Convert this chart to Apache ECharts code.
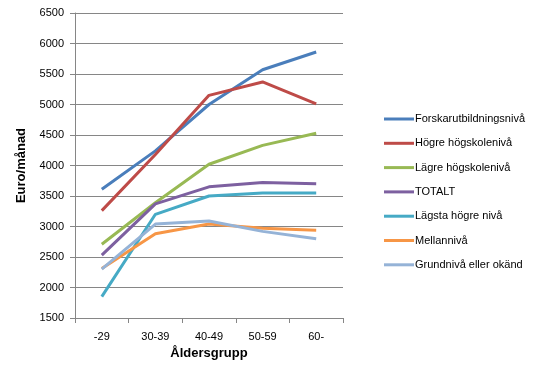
<!DOCTYPE html>
<html><head><meta charset="utf-8">
<script src="https://cdn.jsdelivr.net/npm/echarts@6/dist/echarts.min.js"></script>
<style>html,body{margin:0;padding:0;background:#fff}#c{width:545px;height:382px}</style>
</head><body><div id="c"></div>
<script>
const categories = ['-29', '30-39', '40-49', '50-59', '60-'];
const yTicks = [1500, 6500, 500];
const seriesNames = ['Forskarutbildningsnivå', 'Högre högskolenivå', 'Lägre högskolenivå', 'TOTALT', 'Lägsta högre nivå', 'Mellannivå', 'Grundnivå eller okänd'];
const forskar = [3610, 4240, 5000, 5570, 5860];
const hogre = [3260, 4180, 5150, 5370, 5010];
const lagre = [2710, 3390, 4020, 4330, 4530];
const totalt = [2530, 3370, 3650, 3720, 3700];
const lagsta = [1850, 3200, 3500, 3550, 3550];
const mellan = [2310, 2880, 3040, 2970, 2940];
const grund = [2300, 3040, 3090, 2920, 2800];
const colors = ['#4A7EBB', '#BE4B48', '#98B954', '#7D60A0', '#46AAC5', '#F79646', '#95B3D7'];
const data = [forskar, hogre, lagre, totalt, lagsta, mellan, grund];

const chart = echarts.init(document.getElementById('c'));
const font = 'Liberation Sans, Arial, sans-serif';
chart.setOption({
  animation: false,
  color: colors,
  grid: { left: 75, right: 202, top: 13, bottom: 64 },
  legend: {
    orient: 'vertical', left: 379, top: 108.5,
    icon: 'rect',
    itemWidth: 30, itemHeight: 3, itemGap: 13.3,
    textStyle: { fontFamily: font, fontSize: 11, color: '#000', padding: [0, 0, 0, -4] },
    data: seriesNames
  },
  xAxis: {
    type: 'category', data: categories, boundaryGap: true,
    name: 'Åldersgrupp', nameLocation: 'middle', nameGap: 28,
    nameTextStyle: { fontFamily: font, fontSize: 13, fontWeight: 'bold', color: '#000' },
    axisLine: { lineStyle: { color: '#868686', width: 1 } },
    axisTick: { show: true, length: 5, lineStyle: { color: '#868686' } },
    axisLabel: { fontFamily: font, fontSize: 11, color: '#000', margin: 13 }
  },
  yAxis: {
    type: 'value', min: yTicks[0], max: yTicks[1], interval: yTicks[2],
    name: 'Euro/månad', nameLocation: 'middle', nameGap: 47, nameRotate: 90,
    nameTextStyle: { fontFamily: font, fontSize: 13, fontWeight: 'bold', color: '#000' },
    axisLine: { show: true, lineStyle: { color: '#868686', width: 1 } },
    axisTick: { show: true, length: 5, lineStyle: { color: '#868686' } },
    axisLabel: { fontFamily: font, fontSize: 11, color: '#000', margin: 11, formatter: v => String(v) },
    splitLine: { lineStyle: { color: '#868686', width: 1 } }
  },
  series: seriesNames.map((n, i) => ({
    name: n, type: 'line', data: data[i], symbol: 'none',
    lineStyle: { width: 3, color: colors[i] }, itemStyle: { color: colors[i] }
  }))
});
</script></body></html>
